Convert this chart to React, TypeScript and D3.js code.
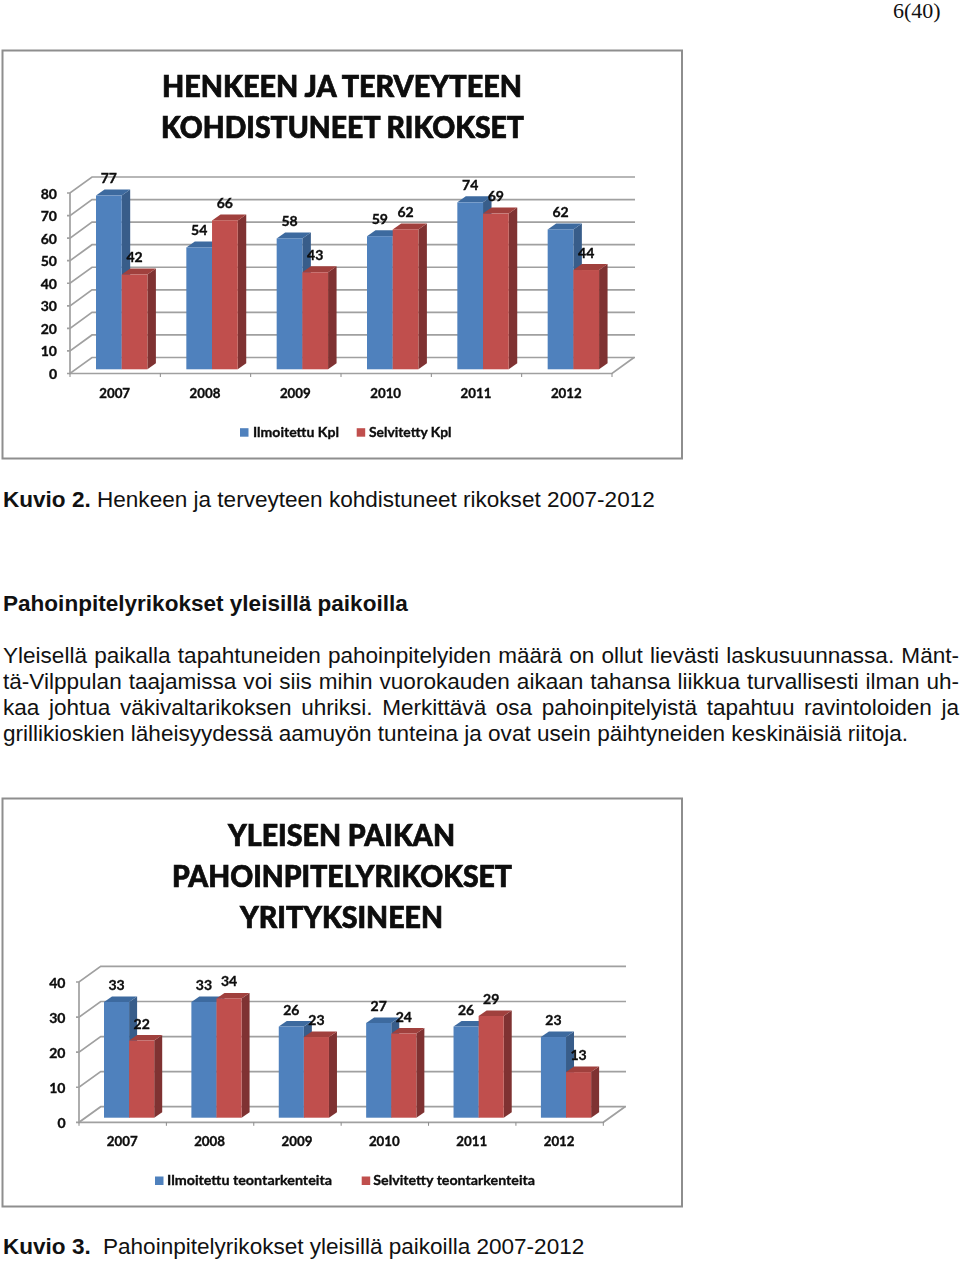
import React from "react";
import * as d3 from "d3";

const years = ["2007", "2008", "2009", "2010", "2011", "2012"];
const reported1 = [77, 54, 58, 59, 74, 62];
const solved1 = [42, 66, 43, 62, 69, 44];
const ticks1 = [0, 10, 20, 30, 40, 50, 60, 70, 80];
const title1 = ["HENKEEN JA TERVEYTEEN", "KOHDISTUNEET RIKOKSET"];
const legend1 = ["Ilmoitettu Kpl", "Selvitetty Kpl"];

const reported2 = [33, 33, 26, 27, 26, 23];
const solved2 = [22, 34, 23, 24, 29, 13];
const ticks2 = [0, 10, 20, 30, 40];
const title2 = ["YLEISEN PAIKAN", "PAHOINPITELYRIKOKSET", "YRITYKSINEEN"];
const legend2 = ["Ilmoitettu teontarkenteita", "Selvitetty teontarkenteita"];

const bodyLines = [
  "Yleisellä paikalla tapahtuneiden pahoinpitelyiden määrä on ollut lievästi laskusuunnassa. Mänt-",
  "tä-Vilppulan taajamissa voi siis mihin vuorokauden aikaan tahansa liikkua turvallisesti ilman uh-",
  "kaa johtua väkivaltarikoksen uhriksi. Merkittävä osa pahoinpitelyistä tapahtuu ravintoloiden ja",
  "grillikioskien läheisyydessä aamuyön tunteina ja ovat usein päihtyneiden keskinäisiä riitoja.",
];

const SANS = "'Liberation Sans', Arial, sans-serif";
const LATO = "Lato, 'Open Sans', sans-serif";
const BLUE = { front: "#4f81bd", top: "#3d6a9f", side: "#385d8a" };
const RED = { front: "#c0504d", top: "#a03f3c", side: "#7f3331" };
const GRID = "#a0a0a0";

function wordGap(text: string, width: number, font: string) {
  const ctx = document.createElement("canvas").getContext("2d")!;
  ctx.font = font;
  const gaps = text.split(" ").length - 1;
  return (width - ctx.measureText(text).width) / gaps;
}

type Layout = {
  left: number; right: number; axisTop: number; axisBottom: number; dx: number; dy: number;
  barBase: number; barStart: number; barW: number; depthX: number; depthY: number;
  tickRight: number; tickBase: number; yearBase: number; labelGap: number;
};

const chartText = { fontFamily: LATO, fontWeight: 700, fill: "#0c0c0c", stroke: "#0c0c0c", strokeWidth: 0.35 };

function Chart({ panelY, reported, solved, ticks, max, titles, titleBase, titleX, legend, legendLayout, lay }: any) {
  const l: Layout = lay;
  const x = d3.scaleBand<string>().domain(years).range([l.left, l.right]);
  const y = d3.scaleLinear().domain([0, max]).range([l.axisBottom, l.axisTop]);
  const barY = d3.scaleLinear().domain([0, max]).range([l.barBase, l.barBase - (l.axisBottom - l.axisTop)]);
  const line = d3.line();

  const bar = (cat: string, idx: number, v: number, c: any) => {
    const x0 = x(cat)! + l.barStart + idx * l.barW;
    const x1 = x0 + l.barW;
    const t = barY(v);
    const b = barY(0);
    const ox = l.depthX, oy = l.depthY;
    return (
      <g key={cat + idx}>
        <path d={line([[x1, t], [x1 + ox, t - oy], [x1 + ox, b - oy], [x1, b]])! + "Z"} fill={c.side} />
        <path d={line([[x0, t], [x0 + ox, t - oy], [x1 + ox, t - oy], [x1, t]])! + "Z"} fill={c.top} />
        <rect x={x0} y={t} width={l.barW} height={b - t} fill={c.front} />
      </g>
    );
  };

  const label = (cat: string, idx: number, v: number) => (
    <text key={"l" + cat + idx} x={x(cat)! + l.barStart + (idx + 0.5) * l.barW} y={barY(v) - l.labelGap}
      textAnchor="middle" {...chartText} fontSize={14}>{v}</text>
  );

  return (
    <g filter="url(#soft)">
      <rect x={2.5} y={panelY} width={679.5} height={408} fill="#fff" stroke="#8e8e8e" strokeWidth={2} />
      {titles.map((t: string, i: number) => (
        <text key={t} x={titleX[i][0]} y={titleBase[i]} textLength={titleX[i][1] - titleX[i][0]} lengthAdjust="spacingAndGlyphs"
          fontFamily={LATO} fontWeight={900} fontSize={29.5} fill="#0a0a0a" stroke="#0a0a0a" strokeWidth={0.7}>{t}</text>
      ))}
      {ticks.map((t: number) => (
        <g key={t}>
          <path d={line([[l.left - 3, y(t)], [l.left, y(t)], [l.left + l.dx, y(t) - l.dy], [l.right + l.dx + 1, y(t) - l.dy]])!}
            fill="none" stroke={GRID} strokeWidth={1.7} />
          <text x={l.tickRight} y={y(t) + l.tickBase} textAnchor="end" {...chartText} fontSize={14}>{t}</text>
        </g>
      ))}
      <path d={line([[l.left, l.axisTop], [l.left, l.axisBottom], [l.right, l.axisBottom], [l.right + l.dx, l.axisBottom - l.dy]])!}
        fill="none" stroke={GRID} strokeWidth={1.7} />
      {[...years.map((c) => x(c)!), l.right].map((px) => (
        <line key={px} x1={px} x2={px} y1={l.axisBottom} y2={l.axisBottom + 3.5} stroke="#8a8a8a" strokeWidth={1} />
      ))}
      {years.map((c, i) => (
        <g key={c}>
          {bar(c, 0, reported[i], BLUE)}
          {bar(c, 1, solved[i], RED)}
        </g>
      ))}
      {years.map((c, i) => label(c, 0, reported[i]))}
      {years.map((c, i) => label(c, 1, solved[i]))}
      {years.map((c) => (
        <text key={"y" + c} x={x(c)! + x.bandwidth() / 2 - 0.5} y={l.yearBase} textAnchor="middle"
          {...chartText} fontSize={13.3}>{c}</text>
      ))}
      {legend.map((t: string, i: number) => {
        const g = legendLayout[i];
        const c = i === 0 ? BLUE : RED;
        return (
          <g key={t}>
            <rect x={g.sq} y={g.base - 8.5} width={8.5} height={8.5} fill={c.front} />
            <text x={g.x0} y={g.base} textLength={g.x1 - g.x0} lengthAdjust="spacingAndGlyphs"
              {...chartText} fontSize={14}>{t}</text>
          </g>
        );
      })}
    </g>
  );
}

const layout1: Layout = {
  left: 70, right: 612, axisTop: 193, axisBottom: 373.5, dx: 22, dy: 16,
  barBase: 369.3, barStart: 26, barW: 25.7, depthX: 8.5, depthY: 6,
  tickRight: 57, tickBase: 5.5, yearBase: 397.5, labelGap: 12.5,
};
const layout2: Layout = {
  left: 79, right: 603.3, axisTop: 982, axisBottom: 1122.3, dx: 21.7, dy: 15.6,
  barBase: 1117.7, barStart: 25, barW: 25.1, depthX: 8, depthY: 5.5,
  tickRight: 65.5, tickBase: 5.5, yearBase: 1146, labelGap: 12,
};

export default function App() {
  const size = 22.55;
  const bodyFont = `${size}px ${SANS}`;
  const boldFont = { fontFamily: SANS, fontWeight: 700, fontSize: size };
  const plain = { fontFamily: SANS, fontSize: size };
  return (
    <svg width={960} height={1261} viewBox="0 0 960 1261" style={{ position: "absolute", left: 0, top: 0, display: "block", background: "#fff" }}>
      <defs>
        <filter id="soft" x="-2%" y="-2%" width="104%" height="104%">
          <feGaussianBlur stdDeviation={0.35} />
        </filter>
      </defs>
      <text x={893} y={18} fontFamily="'Liberation Serif', serif" fontSize={22} fill="#111">6(40)</text>

      <Chart panelY={50.5} reported={reported1} solved={solved1} ticks={ticks1} max={80}
        titles={title1} titleBase={[97, 137.7]} titleX={[[162, 522], [161, 524]]}
        legend={legend1} legendLayout={[{ sq: 240, x0: 253, x1: 339, base: 436.7 }, { sq: 356.7, x0: 369, x1: 451.5, base: 436.7 }]}
        lay={layout1} />

      <text x={3} y={506.7} {...boldFont} fill="#111">Kuvio 2.</text>
      <text x={97} y={506.7} {...plain} fill="#111">Henkeen ja terveyteen kohdistuneet rikokset 2007-2012</text>
      <text x={3} y={610.7} {...boldFont} fill="#111">Pahoinpitelyrikokset yleisillä paikoilla</text>

      {bodyLines.map((t, i) => (
        <text key={i} x={3} y={663 + i * 26} {...plain} fill="#111"
          wordSpacing={i < 3 ? wordGap(t, 956, bodyFont) : wordGap(t, 905, bodyFont)}>{t}</text>
      ))}

      <Chart panelY={798.5} reported={reported2} solved={solved2} ticks={ticks2} max={40}
        titles={title2} titleBase={[846, 886.7, 928]} titleX={[[228, 455], [172, 512], [240, 443]]}
        legend={legend2} legendLayout={[{ sq: 155, x0: 167, x1: 332, base: 1185 }, { sq: 361.7, x0: 373.3, x1: 535, base: 1185 }]}
        lay={layout2} />

      <text x={3} y={1254} {...boldFont} fill="#111">Kuvio 3.</text>
      <text x={103} y={1254} {...plain} fill="#111">Pahoinpitelyrikokset yleisillä paikoilla 2007-2012</text>
    </svg>
  );
}
